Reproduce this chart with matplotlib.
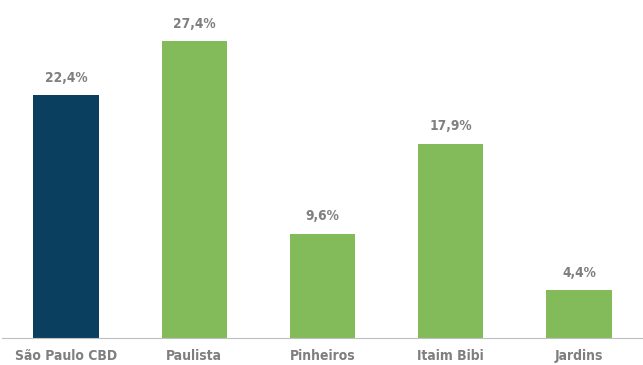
import matplotlib
matplotlib.use("Agg")
import matplotlib.pyplot as plt

categories = ["São Paulo CBD", "Paulista", "Pinheiros", "Itaim Bibi", "Jardins"]
values = [22.4, 27.4, 9.6, 17.9, 4.4]
labels = ["22,4%", "27,4%", "9,6%", "17,9%", "4,4%"]
colors = ["#0B3F60", "#84BB5A", "#84BB5A", "#84BB5A", "#84BB5A"]

fam = ["DejaVu Sans"]
fig = plt.figure(figsize=(6.43, 3.65), dpi=100)
ax = fig.add_axes([0.003, 0.0753, 0.997, 0.9247])
x = range(len(categories))
bars = ax.bar(x, values, width=0.51, color=colors)
for xi, v, lab in zip(x, values, labels):
    ax.annotate(lab, (xi, v), xytext=(0, 7.5), textcoords="offset points",
                ha="center", va="bottom", fontsize=9.8, fontweight="bold",
                color="#7F7F7F", family=fam, fontstretch="condensed")
ax.set_xlim(-0.5, len(categories) - 0.5)
ax.set_ylim(0, 31.2)
ax.set_xticks(list(x))
ax.set_xticklabels(categories, fontsize=10, fontweight="bold", color="#7F7F7F",
                   family=fam, fontstretch="condensed")
ax.tick_params(axis="x", length=0, pad=8)
ax.set_yticks([])
for s in ["top", "right", "left"]:
    ax.spines[s].set_visible(False)
ax.spines["bottom"].set_color("#BFBFBF")
ax.spines["bottom"].set_linestyle((0, (1, 1)))
ax.spines["bottom"].set_linewidth(0.8)
fig.savefig("out.png", dpi=100)
